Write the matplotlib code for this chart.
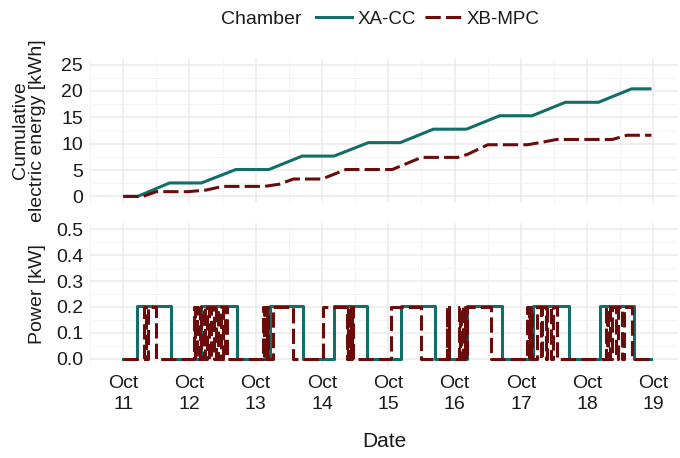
import matplotlib
matplotlib.use("Agg")
import matplotlib.pyplot as plt
from matplotlib.lines import Line2D
import numpy as np

plt.rcParams['font.family'] = ['Liberation Sans', 'DejaVu Sans']

# ---------------- data (day of October) ----------------
series_names = ["XA-CC", "XB-MPC"]
colors = {"XA-CC": "#126e69", "XB-MPC": "#6b0c0c"}

# cumulative electric energy [kWh]
xa_cum_t = [11.0, 11.22, 11.70, 12.18, 12.70, 13.20, 13.70, 14.18, 14.70, 15.18, 15.68,
            16.18, 16.68, 17.17, 17.67, 18.17, 18.67, 18.97]
xa_cum_v = [0.0, 0.0, 2.55, 2.55, 5.1, 5.1, 7.65, 7.65, 10.2, 10.2, 12.75,
            12.75, 15.3, 15.3, 17.85, 17.85, 20.4, 20.4]
xb_cum_t = [11.0, 11.30, 11.50, 11.98, 12.25, 12.50, 13.13, 13.35, 13.57, 14.00, 14.36,
            15.06, 15.50, 16.05, 16.20, 16.50, 17.10, 17.33, 17.54, 18.38, 18.60, 18.97]
xb_cum_v = [0.0, 0.0, 0.9, 0.9, 1.2, 1.9, 1.9, 2.3, 3.3, 3.3, 5.1,
            5.1, 7.4, 7.4, 8.0, 9.8, 9.8, 10.3, 10.8, 10.8, 11.6, 11.6]

# power [kW]: on periods (start, end)
xa_power_level = 0.205
xa_on_start = [11.21, 12.17, 13.21, 14.18, 15.19, 16.19, 17.19, 18.20]
xa_on_end   = [11.72, 12.72, 13.71, 14.68, 15.70, 16.71, 17.72, 18.71]

xb_power_level = 0.198
xb_on_start = [11.32, 11.37,
               12.07, 12.11, 12.16, 12.22, 12.27, 12.33, 12.40, 12.47, 12.53,
               13.11, 13.14, 13.17, 13.26,
               14.02, 14.39, 14.42, 14.45,
               15.04,
               15.88, 15.91, 16.07, 16.10, 16.15, 16.19,
               17.09, 17.12, 17.15, 17.25, 17.32, 17.40, 17.48,
               18.29, 18.32, 18.37, 18.46, 18.55]
xb_on_end   = [11.345, 11.50,
               12.09, 12.12, 12.17, 12.24, 12.30, 12.37, 12.43, 12.50, 12.57,
               13.12, 13.15, 13.18, 13.56,
               14.37, 14.40, 14.43, 14.46,
               15.50,
               15.89, 15.92, 16.08, 16.12, 16.17, 16.55,
               17.10, 17.13, 17.17, 17.30, 17.38, 17.46, 17.55,
               18.30, 18.34, 18.44, 18.52, 18.67]
t_start, t_end = 11.0, 18.97

x_ticks = [11, 12, 13, 14, 15, 16, 17, 18, 19]
x_tick_labels = ["Oct\n11", "Oct\n12", "Oct\n13", "Oct\n14", "Oct\n15",
                 "Oct\n16", "Oct\n17", "Oct\n18", "Oct\n19"]
energy_ticks = [0, 5, 10, 15, 20, 25]
power_ticks = [0.0, 0.1, 0.2, 0.3, 0.4, 0.5]
power_tick_labels = ["0.0", "0.1", "0.2", "0.3", "0.4", "0.5"]


def step_series(starts, ends, level, t0, t1):
    t = [t0]
    y = [0.0]
    for s, e in zip(starts, ends):
        t += [s, e]
        y += [level, 0.0]
    t.append(t1)
    y.append(0.0)
    return t, y


# ---------------- figure ----------------
fig = plt.figure(figsize=(6.8, 4.58), dpi=100)
ax1 = fig.add_axes([90/680, 1-203/458, 588/680, 145/458])
ax2 = fig.add_axes([90/680, 1-365/458, 588/680, 142/458])

lw = 2.2
dash = (5.0, 1.7)
txt = '#1a1a1a'

ax1.plot(xa_cum_t, xa_cum_v, color=colors["XA-CC"], lw=lw, solid_capstyle='butt', zorder=3)
ax1.plot(xb_cum_t, xb_cum_v, color=colors["XB-MPC"], lw=lw, dashes=dash,
         dash_capstyle='butt', zorder=4)

t, y = step_series(xa_on_start, xa_on_end, xa_power_level, t_start, t_end)
ax2.plot(t, y, color=colors["XA-CC"], lw=lw, drawstyle='steps-post', zorder=3)
t, y = step_series(xb_on_start, xb_on_end, xb_power_level, t_start, t_end)
ax2.plot(t, y, color=colors["XB-MPC"], lw=lw, dashes=dash, drawstyle='steps-post', zorder=4)

for ax in (ax1, ax2):
    ax.set_xlim(10.6, 19.37)
    ax.set_xticks(x_ticks)
    ax.set_xticks([x + 0.5 for x in x_ticks[:-1]] + [10.5], minor=True)
    for s in ax.spines.values():
        s.set_visible(False)
    ax.tick_params(which='both', length=0, labelsize=14, colors=txt, pad=5)
    ax.grid(which='major', color='#ebebeb', lw=1.1)
    ax.grid(which='minor', color='#f3f3f3', lw=0.7)
    ax.set_axisbelow(True)

ax1.set_ylim(-1.25, 26.25)
ax1.set_yticks(energy_ticks)
ax1.set_yticks([2.5, 7.5, 12.5, 17.5, 22.5], minor=True)
ax1.tick_params(axis='x', labelbottom=False)

ax2.set_ylim(-0.025, 0.525)
ax2.set_yticks(power_ticks)
ax2.set_yticklabels(power_tick_labels)
ax2.set_yticks([0.05, 0.15, 0.25, 0.35, 0.45], minor=True)
ax2.set_xticklabels(x_tick_labels, linespacing=1.3)
ax2.tick_params(axis='x', pad=7)

ax1.set_ylabel("Cumulative\nelectric energy [kWh]", fontsize=14, color=txt,
               multialignment='center', linespacing=1.0)
ax1.yaxis.set_label_coords(-0.075, 0.5)
ax2.set_ylabel("Power [kW]", fontsize=14, color=txt)
ax2.yaxis.set_label_coords(-0.075, 0.5)
ax2.set_xlabel("Date", fontsize=15, color=txt, labelpad=14)

# legend
fig.text(261/680, 1-19/458, "Chamber", fontsize=14, color=txt, ha='center', va='center')
handles = [Line2D([0], [0], color=colors["XA-CC"], lw=lw),
           Line2D([0], [0], color=colors["XB-MPC"], lw=lw, dashes=dash)]
fig.legend(handles, series_names, loc='center', bbox_to_anchor=(428/680, 1-19/458),
           ncol=2, frameon=False, fontsize=13.5, handlelength=1.9, handletextpad=0.3,
           columnspacing=0.5, labelcolor=txt)

fig.savefig("out.png", dpi=100, facecolor='white')
